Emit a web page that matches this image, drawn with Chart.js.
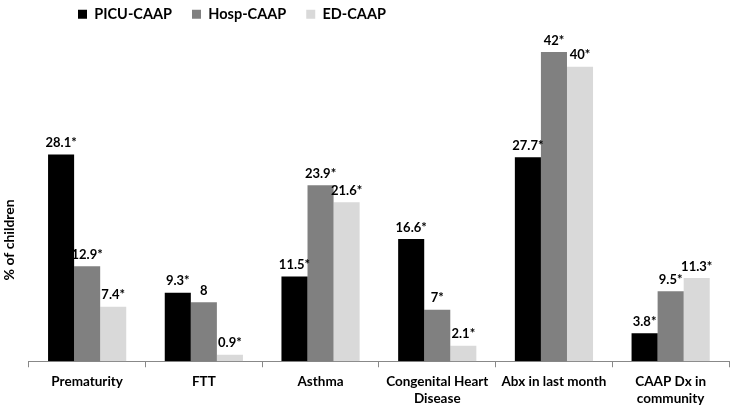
<!DOCTYPE html>
<html><head><meta charset="utf-8">
<script src="https://cdn.jsdelivr.net/npm/chart.js@4"></script>
<style>html,body{margin:0;padding:0;background:#fff}#wrap{width:731px;height:409px}</style>
</head><body><div id="wrap"><canvas id="c"></canvas></div>
<script>
const categories = ["Prematurity", "FTT", "Asthma", ["Congenital Heart", "Disease"], "Abx in last month", ["CAAP Dx in", "community"]];
const seriesNames = ["PICU-CAAP", "Hosp-CAAP", "ED-CAAP"];
const picu = [28.1, 9.3, 11.5, 16.6, 27.7, 3.8];
const hosp = [12.9, 8, 23.9, 7, 42, 9.5];
const ed = [7.4, 0.9, 21.6, 2.1, 40, 11.3];
const picuLabels = ["28.1*", "9.3*", "11.5*", "16.6*", "27.7*", "3.8*"];
const hospLabels = ["12.9*", "8", "23.9*", "7*", "42*", "9.5*"];
const edLabels = ["7.4*", "0.9*", "21.6*", "2.1*", "40*", "11.3*"];
const colors = ["#000000", "#808080", "#d9d9d9"];
const FONT = "Lato";

const valueLabels = {
  id: 'valueLabels',
  afterDatasetsDraw(chart) {
    const ctx = chart.ctx;
    ctx.save();
    ctx.font = "bold 13px " + FONT;
    ctx.fillStyle = "#000";
    ctx.textAlign = "center";
    ctx.textBaseline = "bottom";
    chart.data.datasets.forEach((ds, i) => {
      const meta = chart.getDatasetMeta(i);
      meta.data.forEach((bar, j) => {
        ctx.fillText(ds.valueText[j], bar.x, bar.y - 5);
      });
    });
    ctx.restore();
  }
};
const legendShift = {
  id: 'legendShift',
  afterLayout(chart) {
    if (chart.legend) { chart.legend.left = 58; chart.legend.top = -13; }
  }
};

new Chart(document.getElementById('c'), {
  type: 'bar',
  data: {
    labels: categories,
    datasets: [
      { label: seriesNames[0], data: picu, valueText: picuLabels, backgroundColor: colors[0] },
      { label: seriesNames[1], data: hosp, valueText: hospLabels, backgroundColor: colors[1] },
      { label: seriesNames[2], data: ed, valueText: edLabels, backgroundColor: colors[2] }
    ]
  },
  options: {
    responsive: true,
    maintainAspectRatio: false,
    animation: false,
    layout: { padding: { left: 0, right: 2, top: 0, bottom: -4 } },
    datasets: { bar: { categoryPercentage: 0.67, barPercentage: 1.0 } },
    plugins: {
      legend: {
        position: 'top', align: 'start', maxHeight: 30,
        labels: { boxWidth: 9, boxHeight: 9, padding: 20, color: '#000',
          font: { family: FONT, size: 14.5, weight: 'bold' } }
      },
      tooltip: { enabled: false }
    },
    scales: {
      x: {
        offset: true,
        grid: { display: true, drawOnChartArea: false, offset: true, tickLength: 6, color: '#888' },
        border: { display: true, color: '#888' },
        ticks: { color: '#000', padding: 6, maxRotation: 0, autoSkip: false,
          font: { family: FONT, size: 13.5, weight: 'bold', lineHeight: 1.25 } }
      },
      y: {
        min: 0, max: 45,
        grid: { display: false },
        border: { display: false },
        ticks: { display: false },
        title: { display: true, text: '% of children' + ' '.repeat(26), color: '#000',
          font: { family: FONT, size: 14, weight: 'bold' }, padding: { top: 1, bottom: 3 } }
      }
    }
  },
  plugins: [valueLabels, legendShift]
});
</script></body></html>
